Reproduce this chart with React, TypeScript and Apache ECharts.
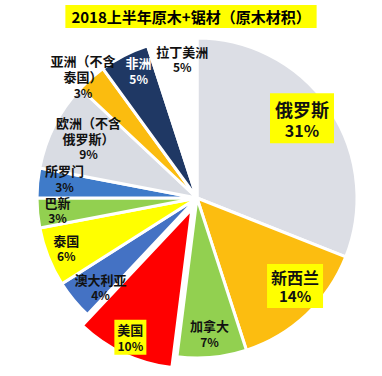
import React, { useEffect, useRef } from "react";
import * as echarts from "echarts";

const titleText = "2018上半年原木+锯材（原木材积）";
const categories = [
  "俄罗斯",
  "新西兰",
  "加拿大",
  "美国",
  "澳大利亚",
  "泰国",
  "巴新",
  "所罗门",
  "欧洲（不含\n俄罗斯）",
  "亚洲（不含\n泰国）",
  "非洲",
  "拉丁美洲",
];
const shares = [31, 14, 7, 10, 4, 6, 3, 3, 9, 3, 5, 5];
const sliceColors = [
  "#dcdee5",
  "#fcbd10",
  "#92d050",
  "#ff0000",
  "#4472c4",
  "#ffff00",
  "#92d050",
  "#3f7bc9",
  "#d9dce3",
  "#fbbc0f",
  "#1f3864",
  "#ffffff",
];
const explodedName = "美国";

// label nudges (px) relative to the mid-ring inside position
const labelNudge: Record<string, [number, number]> = {
  "俄罗斯": [-5, -5],
  "新西兰": [7, -9],
  "加拿大": [0, 3],
  "美国": [-10, 19],
  "澳大利亚": [6, 4],
  "泰国": [-7, 1],
  "巴新": [-7, -1],
  "所罗门": [0, -7],
  "欧洲（不含\n俄罗斯）": [10, 0],
  "亚洲（不含\n泰国）": [-26, -22],
  "非洲": [2, -9],
  "拉丁美洲": [6, -8],
};

const FONT = "'Noto Sans CJK SC', 'Noto Sans', sans-serif";

const baseRich = {
  n: { fontSize: 13, fontWeight: "bold", lineHeight: 16, color: "#111", fontFamily: FONT },
  p: { fontSize: 12, fontWeight: "bold", lineHeight: 15, color: "#111", fontFamily: FONT },
};

function labelFor(name: string) {
  if (name === "俄罗斯") {
    return {
      backgroundColor: "#ffff00",
      padding: [4, 5, 3, 5],
      rich: {
        n: { fontSize: 18, fontWeight: "bold", lineHeight: 23, color: "#111", fontFamily: FONT },
        p: { fontSize: 16, fontWeight: "bold", lineHeight: 20, color: "#111", fontFamily: FONT },
      },
    };
  }
  if (name === "新西兰") {
    return {
      backgroundColor: "#ffff00",
      padding: [3, 4, 3, 4],
      rich: {
        n: { fontSize: 16, fontWeight: "bold", lineHeight: 20, color: "#111", fontFamily: FONT },
        p: { fontSize: 15, fontWeight: "bold", lineHeight: 18, color: "#111", fontFamily: FONT },
      },
    };
  }
  if (name === "美国") {
    return {
      backgroundColor: "#ffff00",
      padding: [2, 3, 2, 3],
      rich: baseRich,
    };
  }
  if (name === "非洲") {
    return {
      rich: {
        n: { ...baseRich.n, color: "#ffffff" },
        p: { ...baseRich.p, color: "#ffffff" },
      },
    };
  }
  return {};
}

export default function App() {
  const ref = useRef<HTMLDivElement>(null);
  useEffect(() => {
    if (!ref.current) return;
    const chart = echarts.init(ref.current, null, { renderer: "svg" });
    const sliceData = categories.map((name, i) => ({
      name,
      value: shares[i],
      selected: name === explodedName,
      itemStyle: { color: sliceColors[i] },
    }));
    const labelData = categories.map((name, i) => ({
      name,
      value: shares[i],
      label: labelFor(name),
    }));
    chart.setOption({
      animation: false,
      backgroundColor: "#ffffff",
      title: {
        text: titleText,
        left: "center",
        top: 5,
        padding: [3, 6, 3, 6],
        backgroundColor: "#ffff00",
        textStyle: {
          fontSize: 15,
          fontWeight: "bold",
          color: "#000",
          lineHeight: 17,
          fontFamily: FONT,
        },
      },
      series: [
        {
          type: "pie",
          center: [197, 198],
          radius: [0, 160],
          startAngle: 90,
          clockwise: true,
          selectedMode: "single",
          selectedOffset: 12,
          silent: true,
          label: { show: false },
          labelLine: { show: false },
          itemStyle: { borderColor: "#ffffff", borderWidth: 3 },
          emphasis: { disabled: true },
          data: sliceData,
        },
        {
          type: "pie",
          center: [197, 198],
          radius: [100, 160],
          startAngle: 90,
          clockwise: true,
          silent: true,
          avoidLabelOverlap: false,
          itemStyle: { color: "rgba(0,0,0,0)", borderWidth: 0 },
          labelLine: { show: false },
          emphasis: { disabled: true },
          label: {
            show: true,
            position: "inside",
            formatter: "{n|{b}}\n{p|{c}%}",
            rich: baseRich,
          },
          labelLayout: (params: any) => {
            const nm = categories[params.dataIndex];
            const d = labelNudge[nm] || [0, 0];
            return { dx: d[0], dy: d[1] };
          },
          data: labelData,
        },
      ],
    });
    return () => chart.dispose();
  }, []);
  return (
    <div
      ref={ref}
      style={{ position: "absolute", left: 0, top: 0, width: 382, height: 376 }}
    />
  );
}
